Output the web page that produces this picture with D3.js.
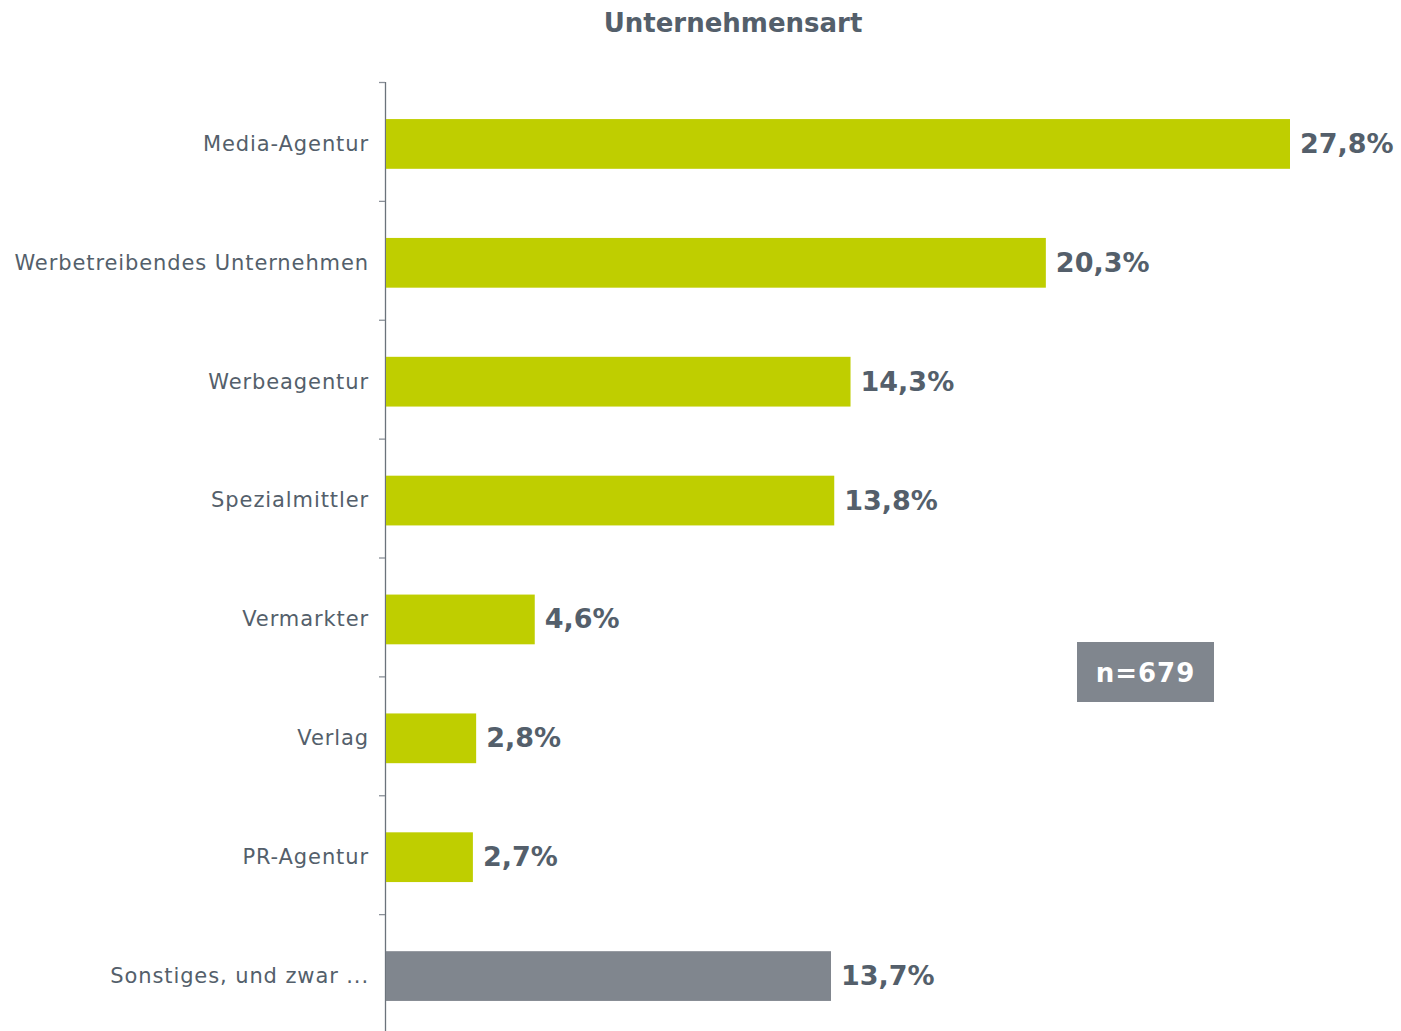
<!DOCTYPE html>
<html><head><meta charset="utf-8">
<script src="https://cdn.jsdelivr.net/npm/d3@7"></script>
<style>body{margin:0;background:#fff}svg{display:block}</style>
</head><body>
<svg id="c" width="1401" height="1031"></svg>
<script>
const categories = ["Media-Agentur","Werbetreibendes Unternehmen","Werbeagentur","Spezialmittler","Vermarkter","Verlag","PR-Agentur","Sonstiges, und zwar ..."];
const values = [27.8,20.3,14.3,13.8,4.6,2.8,2.7,13.7];
const isOther = [false,false,false,false,false,false,false,true];
const title = "Unternehmensart";
const nLabel = "n=679";

const svg = d3.select("#c");
const font = "'DejaVu Sans', Verdana, sans-serif";
const textCol = "#545f6b";
const x = d3.scaleLinear().domain([0, 27.8]).range([385, 1290]);
const y = d3.scaleBand().domain(categories).range([84, 1035]).paddingInner(0.59).paddingOuter(0.295);

svg.append("text").attr("x", 733).attr("y", 32).attr("text-anchor","middle")
  .attr("font-family", font).attr("font-weight","bold").attr("font-size", 26).attr("fill", textCol).text(title);

// axis line + ticks at band boundaries
const step = y.step();
const bounds = d3.range(categories.length).map(i => 82 + i*step);
svg.append("line").attr("x1",385.5).attr("x2",385.5).attr("y1",82).attr("y2",1031).attr("stroke","#6b737b").attr("stroke-width",1.3);
svg.selectAll(".tk").data(bounds).enter().append("line")
  .attr("x1",379).attr("x2",385).attr("y1",d=>d+0.5).attr("y2",d=>d+0.5).attr("stroke","#8a9098").attr("stroke-width",1.3);

svg.selectAll(".bar").data(categories).enter().append("rect")
  .attr("x", x(0)+1).attr("y", d=>y(d)).attr("height", y.bandwidth()+1)
  .attr("width", (d,i)=>x(values[i])-x(0)-1)
  .attr("fill", (d,i)=> isOther[i] ? "#80868e" : "#bfce00");

svg.selectAll(".lab").data(categories).enter().append("text")
  .attr("x", 369).attr("y", d=>y(d)+y.bandwidth()/2).attr("dy","0.35em").attr("text-anchor","end")
  .attr("font-family", font).attr("font-size", 21).attr("letter-spacing", 0.9).attr("fill", textCol).text(d=>d);

svg.selectAll(".val").data(categories).enter().append("text")
  .attr("x", (d,i)=>x(values[i])+10).attr("y", d=>y(d)+y.bandwidth()/2).attr("dy","0.35em")
  .attr("font-family", font).attr("font-weight","bold").attr("font-size", 27).attr("fill", textCol)
  .text((d,i)=>d3.format(".1f")(values[i]).replace(".",",")+"%");

svg.append("rect").attr("x",1077).attr("y",642).attr("width",137).attr("height",60).attr("fill","#80868e");
svg.append("text").attr("x",1145.5).attr("y",673).attr("dy","0.35em").attr("text-anchor","middle")
  .attr("font-family", font).attr("font-weight","bold").attr("font-size",26).attr("letter-spacing",1).attr("fill","#fff").text(nLabel);
</script>
</body></html>
